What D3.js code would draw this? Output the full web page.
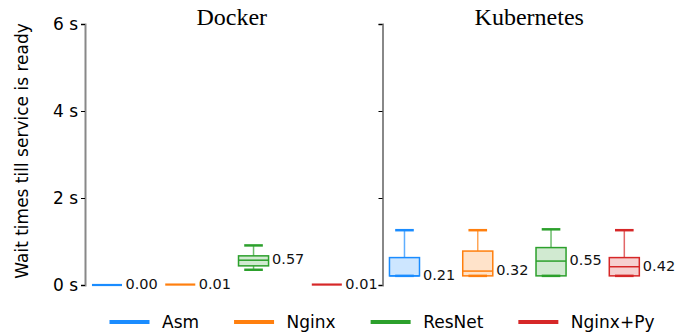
<!DOCTYPE html>
<html><head><meta charset="utf-8">
<script src="https://cdn.jsdelivr.net/npm/d3@7"></script>
<style>body{margin:0;background:#fff}</style>
</head><body>
<svg id="c" width="691" height="335"></svg>
<script>
const categories = ["Asm", "Nginx", "ResNet", "Nginx+Py"];
const panels = ["Docker", "Kubernetes"];
const colors = ["#1a8cff", "#ff7f0e", "#2ca02c", "#d62728"];
// [lower whisker, q1, median, q3, upper whisker]
const dockerStats = [
  [0.00, 0.00, 0.00, 0.00, 0.00],
  [0.01, 0.01, 0.01, 0.01, 0.01],
  [0.35, 0.44, 0.57, 0.67, 0.91],
  [0.01, 0.01, 0.01, 0.01, 0.01]
];
const kubernetesStats = [
  [0.21, 0.21, 0.21, 0.63, 1.26],
  [0.21, 0.21, 0.32, 0.78, 1.26],
  [0.21, 0.21, 0.55, 0.86, 1.28],
  [0.21, 0.21, 0.42, 0.63, 1.26]
];
const yTicks = [0, 2, 4, 6];
const yTickLabels = ["0 s", "2 s", "4 s", "6 s"];
const yLabel = "Wait times till service is ready";

const svg = d3.select("#c");
const y = d3.scaleLinear().domain([0, 6]).range([285, 24]);
const panelW = 297.5;
const panelX = [85, 382.5];
const statsAll = [dockerStats, kubernetesStats];
const boxW = 0.41;

panels.forEach((p, pi) => {
  const x = d3.scaleLinear().domain([-0.3, 3.76]).range([panelX[pi], panelX[pi] + panelW]);
  const g = svg.append("g");
  const ax = g.append("g").attr("transform", `translate(${panelX[pi]},0)`)
    .call(d3.axisLeft(y).tickValues(yTicks).tickSize(4).tickPadding(3)
      .tickFormat((d, i) => pi === 0 ? yTickLabels[i] : ""));
  ax.select(".domain").attr("stroke", "#888").attr("stroke-width", 2);
  ax.selectAll(".tick line").attr("stroke", "#000").attr("stroke-width", 1);
  ax.selectAll(".tick text").attr("font-family", "DejaVu Sans").attr("font-size", 17).attr("fill", "#000");
  g.append("text").attr("x", panelX[pi] + panelW / 2 - 2).attr("y", 25)
    .attr("text-anchor", "middle").attr("font-family", "Liberation Serif").attr("font-size", 24)
    .attr("fill", "#000").text(p);

  statsAll[pi].forEach((s, i) => {
    const c = colors[i];
    const cx = x(i), x0 = x(i - boxW / 2), x1 = x(i + boxW / 2);
    const bw = x1 - x0, capW = bw * 0.62;
    const flat = s[4] - s[0] < 0.05;
    g.append("line").attr("x1", cx).attr("x2", cx).attr("y1", y(s[3])).attr("y2", y(s[4]))
      .attr("stroke", c).attr("stroke-opacity", 0.7).attr("stroke-width", 1.5);
    g.append("line").attr("x1", cx).attr("x2", cx).attr("y1", y(s[0])).attr("y2", y(s[1]))
      .attr("stroke", c).attr("stroke-opacity", 0.7).attr("stroke-width", 1.5);
    g.append("rect").attr("x", x0).attr("width", bw)
      .attr("y", y(s[3])).attr("height", Math.max(0, y(s[1]) - y(s[3])))
      .attr("fill", c).attr("fill-opacity", 0.22).attr("stroke", c).attr("stroke-width", 1.5);
    g.append("line").attr("x1", x0).attr("x2", x1).attr("y1", y(s[2])).attr("y2", y(s[2]))
      .attr("stroke", c).attr("stroke-width", flat ? 2.2 : 1.5);
    if (!flat) {
      g.append("line").attr("x1", cx - capW / 2).attr("x2", cx + capW / 2).attr("y1", y(s[4])).attr("y2", y(s[4]))
        .attr("stroke", c).attr("stroke-width", 2.5);
      g.append("line").attr("x1", cx - capW / 2).attr("x2", cx + capW / 2).attr("y1", y(s[0])).attr("y2", y(s[0]))
        .attr("stroke", c).attr("stroke-width", 2.5);
    }
    g.append("text").attr("x", x1 + 3.5).attr("y", y(s[2]) - 1)
      .attr("dominant-baseline", "central").attr("font-family", "DejaVu Sans").attr("font-size", 14.5)
      .attr("fill", "#111").text(s[2].toFixed(2));
  });
});

svg.append("text").attr("transform", "translate(22,151) rotate(-90)")
  .attr("text-anchor", "middle").attr("dominant-baseline", "central")
  .attr("font-family", "DejaVu Sans").attr("font-size", 17).attr("fill", "#000").text(yLabel);

// legend: handle 40px, gap 12.5px, column spacing 35px
let lx = 109.5;
categories.forEach((cat, i) => {
  svg.append("line").attr("x1", lx).attr("x2", lx + 40).attr("y1", 322).attr("y2", 322)
    .attr("stroke", colors[i]).attr("stroke-width", 4);
  const t = svg.append("text").attr("x", lx + 52.5).attr("y", 322).attr("dominant-baseline", "central")
    .attr("font-family", "DejaVu Sans").attr("font-size", 17).attr("fill", "#000").text(cat);
  lx = lx + 52.5 + t.node().getComputedTextLength() + 35;
});
</script>
</body></html>
